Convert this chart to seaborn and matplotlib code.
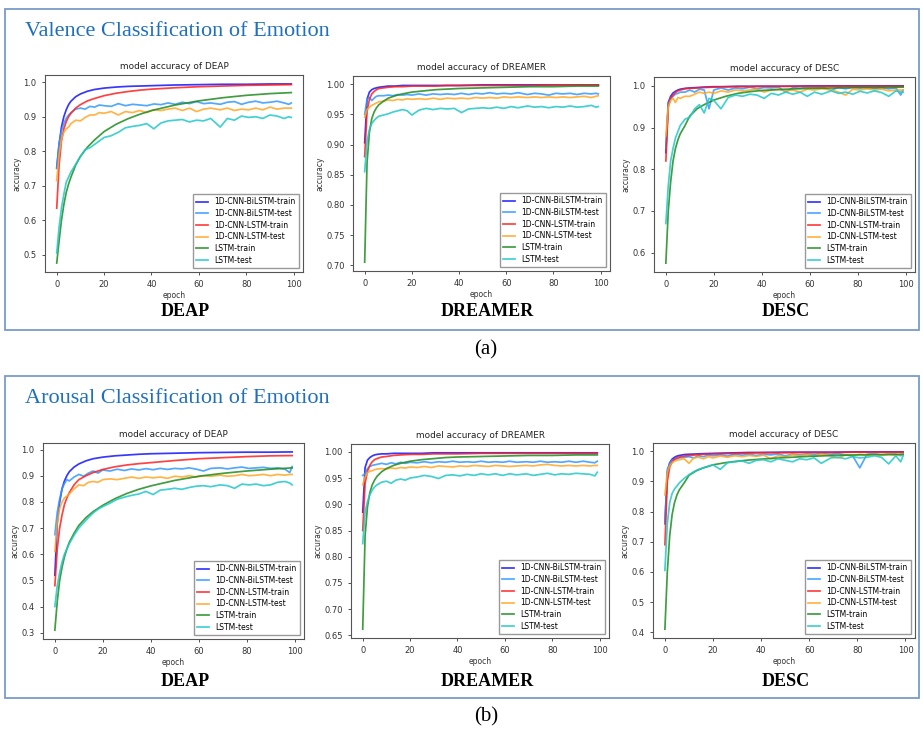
import matplotlib
matplotlib.use("Agg")
import matplotlib.pyplot as plt
import seaborn as sns
from matplotlib.patches import Rectangle

ep_train = [0, 1, 2, 3, 4, 5, 6, 8, 10, 13, 16, 20, 25, 30, 35, 40, 50, 60, 70, 80, 90, 99]
ep_test = [0, 1, 2, 3, 4, 5, 6, 8, 10, 12, 14, 16, 18, 20, 23, 26, 29, 32, 35, 38, 41,
           44, 47, 50, 53, 56, 59, 62, 65, 69, 72, 75, 78, 81, 84, 87, 90, 93, 96, 98, 99]

labels = ['1D-CNN-BiLSTM-train', '1D-CNN-BiLSTM-test', '1D-CNN-LSTM-train',
          '1D-CNN-LSTM-test', 'LSTM-train', 'LSTM-test']
colors = ['#1414ff', '#3399ff', '#ff2020', '#ffa726', '#1e8c1e', '#22c8c8']

# ---- (a) valence ----
va_deap_bi_train = [0.752, 0.82, 0.87, 0.90, 0.92, 0.935, 0.945, 0.958, 0.966, 0.974, 0.979, 0.983,
                    0.986, 0.988, 0.989, 0.990, 0.992, 0.993, 0.994, 0.994, 0.995, 0.995]
va_deap_bi_test = [0.75, 0.82, 0.86, 0.88, 0.895, 0.905, 0.912, 0.922, 0.925, 0.922, 0.93, 0.928,
                   0.934, 0.932, 0.93, 0.938, 0.932, 0.936, 0.934, 0.932, 0.937, 0.935, 0.94, 0.936,
                   0.942, 0.938, 0.944, 0.938, 0.94, 0.936, 0.942, 0.944, 0.936, 0.942, 0.945, 0.94,
                   0.942, 0.945, 0.94, 0.936, 0.94]
va_deap_cl_train = [0.635, 0.76, 0.83, 0.865, 0.885, 0.90, 0.91, 0.925, 0.935, 0.946, 0.953, 0.961,
                    0.968, 0.973, 0.977, 0.980, 0.984, 0.987, 0.989, 0.991, 0.992, 0.993]
va_deap_cl_test = [0.715, 0.79, 0.835, 0.855, 0.865, 0.87, 0.88, 0.89, 0.888, 0.898, 0.905, 0.905,
                   0.912, 0.91, 0.915, 0.905, 0.915, 0.912, 0.918, 0.912, 0.92, 0.918, 0.922, 0.925,
                   0.918, 0.925, 0.915, 0.922, 0.925, 0.92, 0.925, 0.918, 0.922, 0.92, 0.925, 0.92,
                   0.928, 0.922, 0.925, 0.925, 0.925]
va_deap_ls_train = [0.476, 0.54, 0.60, 0.645, 0.68, 0.705, 0.725, 0.76, 0.785, 0.812, 0.833, 0.857,
                    0.878, 0.894, 0.907, 0.918, 0.934, 0.946, 0.955, 0.962, 0.967, 0.970]
va_deap_ls_test = [0.505, 0.58, 0.635, 0.675, 0.71, 0.725, 0.74, 0.762, 0.785, 0.805, 0.81, 0.82,
                   0.83, 0.84, 0.845, 0.855, 0.868, 0.872, 0.875, 0.88, 0.865, 0.882, 0.888, 0.89,
                   0.892, 0.885, 0.89, 0.888, 0.895, 0.87, 0.895, 0.89, 0.902, 0.898, 0.9, 0.895,
                   0.905, 0.902, 0.895, 0.9, 0.898]

va_dream_bi_train = [0.903, 0.975, 0.987, 0.991, 0.993, 0.994, 0.995, 0.996, 0.997, 0.997, 0.998, 0.998,
                     0.998, 0.998, 0.998, 0.998, 0.999, 0.999, 0.999, 0.999, 0.999, 0.999]
va_dream_bi_test = [0.95, 0.975, 0.978, 0.973, 0.977, 0.98, 0.981, 0.981, 0.982, 0.981, 0.983, 0.982,
                    0.983, 0.982, 0.984, 0.982, 0.984, 0.983, 0.984, 0.983, 0.985, 0.983, 0.985, 0.984,
                    0.986, 0.984, 0.985, 0.984, 0.986, 0.983, 0.985, 0.984, 0.982, 0.985, 0.984, 0.985,
                    0.983, 0.985, 0.984, 0.985, 0.984]
va_dream_cl_train = [0.88, 0.955, 0.975, 0.984, 0.988, 0.991, 0.993, 0.994, 0.995, 0.996, 0.996, 0.997,
                     0.997, 0.997, 0.998, 0.998, 0.998, 0.998, 0.998, 0.999, 0.999, 0.999]
va_dream_cl_test = [0.945, 0.958, 0.962, 0.965, 0.967, 0.969, 0.971, 0.972, 0.974, 0.973, 0.975, 0.974,
                    0.976, 0.975, 0.976, 0.975, 0.977, 0.975, 0.977, 0.976, 0.977, 0.976, 0.978, 0.977,
                    0.978, 0.977, 0.979, 0.978, 0.979, 0.978, 0.979, 0.978, 0.979, 0.978, 0.979, 0.978,
                    0.979, 0.98, 0.978, 0.98, 0.981]
va_dream_ls_train = [0.705, 0.87, 0.92, 0.943, 0.954, 0.961, 0.966, 0.972, 0.977, 0.981, 0.984, 0.987,
                     0.989, 0.991, 0.992, 0.993, 0.994, 0.995, 0.996, 0.996, 0.997, 0.997]
va_dream_ls_test = [0.855, 0.905, 0.925, 0.935, 0.94, 0.944, 0.947, 0.949, 0.951, 0.954, 0.956, 0.958,
                    0.956, 0.949, 0.957, 0.96, 0.958, 0.96, 0.959, 0.96, 0.953, 0.959, 0.96, 0.961,
                    0.96, 0.962, 0.96, 0.963, 0.961, 0.964, 0.962, 0.963, 0.961, 0.963, 0.962, 0.964,
                    0.962, 0.963, 0.965, 0.962, 0.963]

va_desc_bi_train = [0.84, 0.96, 0.975, 0.983, 0.987, 0.99, 0.992, 0.994, 0.995, 0.996, 0.997, 0.998,
                    0.998, 0.999, 0.999, 0.999, 0.999, 1.0, 1.0, 1.0, 1.0, 1.0]
va_desc_bi_test = [0.85, 0.955, 0.97, 0.975, 0.98, 0.982, 0.985, 0.985, 0.99, 0.985, 0.992, 0.99,
                   0.945, 0.99, 0.995, 0.99, 0.995, 0.993, 0.997, 0.993, 0.996, 0.995, 0.997, 0.985,
                   0.996, 0.994, 0.997, 0.995, 0.997, 0.99, 0.996, 0.993, 0.997, 0.995, 0.997, 0.994,
                   0.996, 0.993, 0.995, 0.978, 0.99]
va_desc_cl_train = [0.82, 0.95, 0.97, 0.978, 0.984, 0.988, 0.99, 0.993, 0.994, 0.995, 0.996, 0.997,
                    0.998, 0.998, 0.998, 0.999, 0.999, 0.999, 0.999, 0.999, 0.999, 0.999]
va_desc_cl_test = [0.88, 0.95, 0.965, 0.97, 0.96, 0.972, 0.97, 0.975, 0.975, 0.98, 0.985, 0.982,
                   0.985, 0.982, 0.988, 0.985, 0.99, 0.988, 0.99, 0.992, 0.985, 0.99, 0.992, 0.988,
                   0.99, 0.985, 0.992, 0.99, 0.993, 0.99, 0.985, 0.978, 0.992, 0.99, 0.993, 0.99,
                   0.992, 0.988, 0.99, 0.99, 0.99]
va_desc_ls_train = [0.575, 0.70, 0.77, 0.82, 0.85, 0.87, 0.885, 0.905, 0.928, 0.945, 0.955, 0.966,
                    0.975, 0.982, 0.986, 0.989, 0.992, 0.994, 0.995, 0.996, 0.996, 0.997]
va_desc_ls_test = [0.67, 0.76, 0.82, 0.85, 0.875, 0.89, 0.905, 0.92, 0.925, 0.945, 0.955, 0.935,
                   0.97, 0.965, 0.945, 0.972, 0.978, 0.975, 0.98, 0.978, 0.97, 0.982, 0.978, 0.985,
                   0.98, 0.985, 0.975, 0.985, 0.98, 0.988, 0.982, 0.985, 0.98, 0.987, 0.983, 0.988,
                   0.984, 0.975, 0.988, 0.985, 0.985]

# ---- (b) arousal ----
ar_deap_bi_train = [0.52, 0.72, 0.80, 0.85, 0.88, 0.90, 0.915, 0.933, 0.945, 0.957, 0.965, 0.971,
                    0.976, 0.979, 0.982, 0.984, 0.986, 0.988, 0.989, 0.99, 0.99, 0.991]
ar_deap_bi_test = [0.675, 0.76, 0.81, 0.85, 0.87, 0.885, 0.88, 0.895, 0.905, 0.898, 0.91, 0.918,
                   0.91, 0.922, 0.918, 0.925, 0.92, 0.926, 0.922, 0.927, 0.923, 0.928, 0.924, 0.928,
                   0.926, 0.93, 0.925, 0.918, 0.928, 0.93, 0.926, 0.93, 0.933, 0.928, 0.93, 0.932,
                   0.928, 0.93, 0.925, 0.912, 0.935]
ar_deap_cl_train = [0.48, 0.62, 0.70, 0.75, 0.79, 0.815, 0.835, 0.865, 0.885, 0.90, 0.912, 0.924,
                    0.934, 0.941, 0.946, 0.95, 0.958, 0.965, 0.969, 0.973, 0.976, 0.977]
ar_deap_cl_test = [0.61, 0.72, 0.775, 0.80, 0.815, 0.822, 0.83, 0.85, 0.865, 0.862, 0.875, 0.878,
                   0.875, 0.885, 0.888, 0.885, 0.89, 0.895, 0.89, 0.895, 0.892, 0.895, 0.89, 0.898,
                   0.895, 0.9, 0.895, 0.9, 0.898, 0.902, 0.898, 0.9, 0.905, 0.9, 0.902, 0.905,
                   0.9, 0.905, 0.902, 0.905, 0.905]
ar_deap_ls_train = [0.31, 0.42, 0.50, 0.55, 0.59, 0.62, 0.645, 0.68, 0.71, 0.74, 0.763, 0.787,
                    0.812, 0.832, 0.848, 0.861, 0.882, 0.898, 0.909, 0.918, 0.925, 0.93]
ar_deap_ls_test = [0.40, 0.48, 0.53, 0.57, 0.60, 0.62, 0.64, 0.672, 0.70, 0.72, 0.74, 0.758,
                   0.772, 0.782, 0.795, 0.81, 0.818, 0.825, 0.83, 0.84, 0.828, 0.845, 0.848, 0.852,
                   0.848, 0.855, 0.86, 0.862, 0.858, 0.865, 0.862, 0.852, 0.868, 0.865, 0.868, 0.862,
                   0.865, 0.875, 0.878, 0.872, 0.865]

ar_dream_bi_train = [0.885, 0.97, 0.984, 0.989, 0.992, 0.994, 0.995, 0.996, 0.996, 0.997, 0.997, 0.997,
                     0.997, 0.998, 0.998, 0.998, 0.998, 0.998, 0.998, 0.998, 0.998, 0.998]
ar_dream_bi_test = [0.955, 0.958, 0.968, 0.972, 0.974, 0.975, 0.976, 0.978, 0.976, 0.979, 0.977, 0.98,
                    0.978, 0.98, 0.979, 0.981, 0.979, 0.981, 0.98, 0.982, 0.98, 0.981, 0.98, 0.982,
                    0.98, 0.981, 0.98, 0.982, 0.98, 0.981, 0.98, 0.982, 0.98, 0.981, 0.98, 0.982,
                    0.98, 0.982, 0.98, 0.979, 0.982]
ar_dream_cl_train = [0.85, 0.94, 0.963, 0.974, 0.981, 0.985, 0.987, 0.99, 0.991, 0.993, 0.994, 0.995,
                     0.995, 0.996, 0.996, 0.996, 0.997, 0.997, 0.997, 0.997, 0.997, 0.997]
ar_dream_cl_test = [0.937, 0.952, 0.96, 0.963, 0.964, 0.966, 0.967, 0.968, 0.967, 0.969, 0.968, 0.97,
                    0.969, 0.971, 0.97, 0.972, 0.97, 0.973, 0.972, 0.971, 0.973, 0.972, 0.974, 0.973,
                    0.972, 0.974, 0.973, 0.972, 0.973, 0.974, 0.973, 0.975, 0.976, 0.974, 0.973, 0.974,
                    0.973, 0.974, 0.973, 0.974, 0.974]
ar_dream_ls_train = [0.662, 0.84, 0.895, 0.922, 0.937, 0.946, 0.953, 0.962, 0.968, 0.974, 0.978, 0.982,
                     0.985, 0.987, 0.989, 0.99, 0.991, 0.992, 0.993, 0.993, 0.994, 0.994]
ar_dream_ls_test = [0.825, 0.885, 0.905, 0.918, 0.927, 0.933, 0.937, 0.942, 0.944, 0.94, 0.946, 0.948,
                    0.946, 0.95, 0.952, 0.955, 0.953, 0.949, 0.955, 0.956, 0.954, 0.957, 0.955, 0.958,
                    0.956, 0.958, 0.955, 0.958, 0.956, 0.958, 0.955, 0.957, 0.959, 0.956, 0.958, 0.957,
                    0.959, 0.958, 0.957, 0.954, 0.961]

ar_desc_bi_train = [0.76, 0.93, 0.962, 0.974, 0.98, 0.984, 0.986, 0.989, 0.99, 0.991, 0.992, 0.993,
                    0.994, 0.995, 0.996, 0.996, 0.997, 0.997, 0.997, 0.998, 0.998, 0.998]
ar_desc_bi_test = [0.76, 0.94, 0.96, 0.97, 0.972, 0.975, 0.978, 0.98, 0.982, 0.978, 0.985, 0.982,
                   0.987, 0.985, 0.988, 0.984, 0.99, 0.987, 0.99, 0.986, 0.99, 0.988, 0.991, 0.985,
                   0.99, 0.988, 0.991, 0.99, 0.992, 0.99, 0.992, 0.988, 0.985, 0.945, 0.99, 0.992,
                   0.988, 0.99, 0.99, 0.985, 0.99]
ar_desc_cl_train = [0.69, 0.90, 0.948, 0.965, 0.974, 0.978, 0.981, 0.984, 0.986, 0.988, 0.99, 0.991,
                    0.992, 0.993, 0.994, 0.995, 0.995, 0.996, 0.996, 0.997, 0.997, 0.997]
ar_desc_cl_test = [0.855, 0.93, 0.952, 0.962, 0.967, 0.97, 0.972, 0.975, 0.96, 0.978, 0.98, 0.975,
                   0.982, 0.978, 0.984, 0.98, 0.985, 0.982, 0.986, 0.983, 0.987, 0.975, 0.985, 0.982,
                   0.988, 0.985, 0.988, 0.984, 0.99, 0.985, 0.978, 0.988, 0.985, 0.99, 0.986, 0.99,
                   0.987, 0.99, 0.985, 0.99, 0.988]
ar_desc_ls_train = [0.41, 0.60, 0.72, 0.79, 0.83, 0.855, 0.872, 0.895, 0.92, 0.935, 0.945, 0.955,
                    0.962, 0.967, 0.971, 0.974, 0.979, 0.983, 0.986, 0.988, 0.989, 0.99]
ar_desc_ls_test = [0.605, 0.76, 0.83, 0.86, 0.875, 0.885, 0.895, 0.91, 0.922, 0.932, 0.94, 0.945,
                   0.95, 0.955, 0.94, 0.962, 0.965, 0.968, 0.96, 0.97, 0.972, 0.965, 0.975, 0.97,
                   0.965, 0.975, 0.972, 0.978, 0.96, 0.978, 0.98, 0.975, 0.982, 0.978, 0.98, 0.985,
                   0.98, 0.958, 0.985, 0.965, 0.985]

yt_deap_a = [0.5, 0.6, 0.7, 0.8, 0.9, 1.0]
yt_dream_a = [0.70, 0.75, 0.80, 0.85, 0.90, 0.95, 1.00]
yt_desc_a = [0.6, 0.7, 0.8, 0.9, 1.0]
yt_deap_b = [0.3, 0.4, 0.5, 0.6, 0.7, 0.8, 0.9, 1.0]
yt_dream_b = [0.65, 0.70, 0.75, 0.80, 0.85, 0.90, 0.95, 1.00]
yt_desc_b = [0.4, 0.5, 0.6, 0.7, 0.8, 0.9, 1.0]

W, H = 923, 731
fig = plt.figure(figsize=(W / 100, H / 100), dpi=100)


def px_rect(x0, y0, x1, y1):
    return [x0 / W, 1 - y1 / H, (x1 - x0) / W, (y1 - y0) / H]


panels = [
    ('DEAP', px_rect(45, 75, 303, 272), yt_deap_a, '{:.1f}',
     [va_deap_bi_train, va_deap_bi_test, va_deap_cl_train, va_deap_cl_test, va_deap_ls_train, va_deap_ls_test]),
    ('DREAMER', px_rect(353, 76, 610, 271), yt_dream_a, '{:.2f}',
     [va_dream_bi_train, va_dream_bi_test, va_dream_cl_train, va_dream_cl_test, va_dream_ls_train, va_dream_ls_test]),
    ('DESC', px_rect(654, 77, 915, 272), yt_desc_a, '{:.1f}',
     [va_desc_bi_train, va_desc_bi_test, va_desc_cl_train, va_desc_cl_test, va_desc_ls_train, va_desc_ls_test]),
    ('DEAP', px_rect(43, 443, 304, 639), yt_deap_b, '{:.1f}',
     [ar_deap_bi_train, ar_deap_bi_test, ar_deap_cl_train, ar_deap_cl_test, ar_deap_ls_train, ar_deap_ls_test]),
    ('DREAMER', px_rect(351, 444, 609, 638), yt_dream_b, '{:.2f}',
     [ar_dream_bi_train, ar_dream_bi_test, ar_dream_cl_train, ar_dream_cl_test, ar_dream_ls_train, ar_dream_ls_test]),
    ('DESC', px_rect(653, 443, 915, 638), yt_desc_b, '{:.1f}',
     [ar_desc_bi_train, ar_desc_bi_test, ar_desc_cl_train, ar_desc_cl_test, ar_desc_ls_train, ar_desc_ls_test]),
]

for name, rect, yt, fmt, series in panels:
    ax = fig.add_axes(rect)
    for i, vals in enumerate(series):
        ep = ep_train if i % 2 == 0 else ep_test
        sns.lineplot(x=ep, y=vals, ax=ax, color=colors[i], label=labels[i],
                     linewidth=1.25, alpha=0.85)
    ax.set_yticks(yt)
    ax.set_yticklabels([fmt.format(v) for v in yt])
    ax.set_xticks([0, 20, 40, 60, 80, 100])
    ax.tick_params(labelsize=6, length=2.5, width=0.6, colors='#333333')
    ax.set_title('model accuracy of ' + name, fontsize=6.4, pad=4, color='#222222')
    ax.set_xlabel('epoch', fontsize=5.5, labelpad=1, color='#333333')
    ax.set_ylabel('accuracy', fontsize=5.5, labelpad=1.5, color='#333333')
    for sp in ax.spines.values():
        sp.set_color('#555555')
        sp.set_linewidth(0.8)
    ax.legend(loc='lower right', fontsize=5.5, handlelength=1.6, labelspacing=0.35,
              borderpad=0.45, framealpha=1.0, fancybox=False, edgecolor='#999999')

# outer boxes, headings and captions
for y0, y1 in [(9, 330), (376, 698)]:
    fig.add_artist(Rectangle((5 / W, 1 - y1 / H), 914 / W, (y1 - y0) / H,
                             transform=fig.transFigure, fill=False,
                             edgecolor='#7a9cc6', linewidth=1.3))

serif = ['Liberation Serif', 'DejaVu Serif']
fig.text(25 / W, 1 - 32 / H, 'Valence Classification of Emotion', color='#1f6fbf',
         fontsize=16, family=serif, va='center')
fig.text(25 / W, 1 - 399 / H, 'Arousal Classification of Emotion', color='#1f6fbf',
         fontsize=16, family=serif, va='center')

for yc in [312, 682]:
    for name, xc in [('DEAP', 185), ('DREAMER', 487), ('DESC', 786)]:
        fig.text(xc / W, 1 - yc / H, name, ha='center', va='center',
                 fontsize=13, fontweight='bold', family=serif)

fig.text(486 / W, 1 - 350 / H, '(a)', ha='center', va='center', fontsize=15, family=serif)
fig.text(486 / W, 1 - 717 / H, '(b)', ha='center', va='center', fontsize=15, family=serif)

fig.savefig('out.png', dpi=100)
